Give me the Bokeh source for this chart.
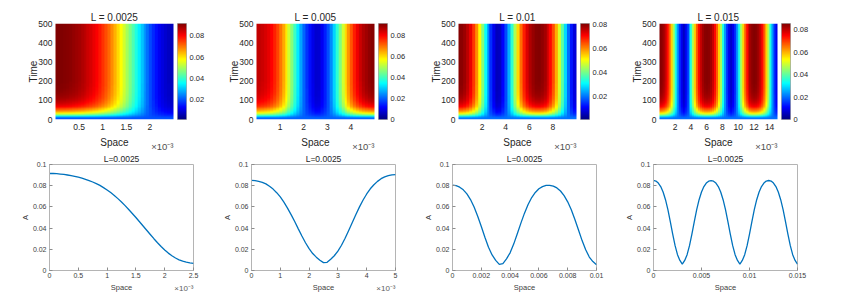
import numpy as np
from bokeh.plotting import figure
from bokeh.models import Range1d, LinearColorMapper, FixedTicker, CustomJSTickFormatter, Title
from bokeh.layouts import row, column
from bokeh.embed import file_html
from bokeh.resources import INLINE

FONT = "Liberation Sans"

# ---------------- data ----------------
lengths = [0.0025, 0.005, 0.01, 0.015]
top_titles = ["L = 0.0025", "L = 0.005", "L = 0.01", "L = 0.015"]
bottom_titles = ["L=0.0025", "L=0.0025", "L=0.0025", "L=0.0025"]
space_step = [0.0625e-3, 0.125e-3, 0.25e-3, 0.25e-3]

# steady-state A(space) profiles (bottom row), sampled every space_step
profile_1 = [0.0915, 0.0915, 0.0913, 0.0910, 0.0906, 0.0901, 0.0895, 0.0888, 0.0880, 0.0871,
             0.0860, 0.0848, 0.0835, 0.0820, 0.0803, 0.0782, 0.0760, 0.0735, 0.0708, 0.0678,
             0.0646, 0.0612, 0.0576, 0.0538, 0.0500, 0.0460, 0.0420, 0.0380, 0.0340, 0.0300,
             0.0262, 0.0226, 0.0193, 0.0164, 0.0139, 0.0118, 0.0101, 0.0088, 0.0078, 0.0071,
             0.0067]
profile_2 = [0.0850, 0.0848, 0.0841, 0.0831, 0.0817, 0.0795, 0.0768, 0.0734, 0.0694, 0.0645,
             0.0589, 0.0527, 0.0462, 0.0393, 0.0325, 0.0262, 0.0206, 0.0160, 0.0126, 0.0096,
             0.0074, 0.0077, 0.0106, 0.0139, 0.0182, 0.0238, 0.0304, 0.0378, 0.0453, 0.0528,
             0.0600, 0.0665, 0.0722, 0.0771, 0.0809, 0.0841, 0.0866, 0.0883, 0.0895, 0.0903,
             0.0905]
profile_3 = [0.0805, 0.0800, 0.0786, 0.0761, 0.0723, 0.0669, 0.0599, 0.0512, 0.0415, 0.0314,
             0.0220, 0.0147, 0.0096, 0.0058, 0.0065, 0.0110, 0.0167, 0.0249, 0.0346, 0.0447,
             0.0541, 0.0623, 0.0688, 0.0736, 0.0771, 0.0791, 0.0803, 0.0804, 0.0796, 0.0779,
             0.0750, 0.0706, 0.0648, 0.0573, 0.0481, 0.0382, 0.0282, 0.0195, 0.0127, 0.0084,
             0.0055]
profile_4 = [0.0850, 0.0844, 0.0825, 0.0792, 0.0740, 0.0668, 0.0574, 0.0462, 0.0344, 0.0234,
             0.0149, 0.0095, 0.0060, 0.0095, 0.0149, 0.0234, 0.0344, 0.0462, 0.0574, 0.0668,
             0.0740, 0.0792, 0.0825, 0.0843, 0.0848, 0.0843, 0.0825, 0.0792, 0.0740, 0.0668,
             0.0574, 0.0462, 0.0344, 0.0234, 0.0149, 0.0095, 0.0061, 0.0095, 0.0149, 0.0234,
             0.0344, 0.0462, 0.0574, 0.0668, 0.0740, 0.0792, 0.0825, 0.0844, 0.0849, 0.0844,
             0.0825, 0.0792, 0.0740, 0.0668, 0.0574, 0.0462, 0.0344, 0.0234, 0.0149, 0.0095,
             0.0059]
profiles = [profile_1, profile_2, profile_3, profile_4]

# time evolution: initial level and fraction of the way to steady state (every 5 time units)
initial_value = 0.02
growth_dt = 5
t_end = 500
growth = [0.00, 0.02, 0.10, 0.24, 0.37, 0.47, 0.55, 0.62, 0.67, 0.715,
          0.75, 0.785, 0.815, 0.84, 0.86, 0.88, 0.895, 0.91, 0.922, 0.933,
          0.943, 0.951, 0.958, 0.964, 0.969, 0.974, 0.978, 0.981, 0.984, 0.987,
          0.989, 0.991, 0.993, 0.994, 0.995, 0.996, 0.997, 0.998, 0.999, 0.999]

cbar_low = [0.0015, 0.0, 0.001, 0.0]
cbar_high = [0.0915, 0.0912, 0.081, 0.0855]

top_xticks = [[0.5, 1, 1.5, 2], [1, 2, 3, 4], [2, 4, 6, 8], [2, 4, 6, 8, 10, 12, 14]]
time_ticks = [0, 100, 200, 300, 400, 500]
cbar_ticks = [0, 0.02, 0.04, 0.06, 0.08]
bottom_xticks = [[0, 0.5, 1, 1.5, 2, 2.5], [0, 1, 2, 3, 4, 5],
                 [0, 0.002, 0.004, 0.006, 0.008, 0.01], [0, 0.005, 0.01, 0.015]]
bottom_xscale = [1e3, 1e3, 1, 1]
a_ticks = [0, 0.02, 0.04, 0.06, 0.08, 0.1]

# ---------------- styling ----------------
def jet(n=256):
    out = []
    for i in range(n):
        x = i / (n - 1)
        r = min(max(1.5 - abs(4 * x - 3), 0), 1)
        g = min(max(1.5 - abs(4 * x - 2), 0), 1)
        b = min(max(1.5 - abs(4 * x - 1), 0), 1)
        out.append("#%02x%02x%02x" % (round(r * 255), round(g * 255), round(b * 255)))
    return out

JET = jet()
FMT = "return String(parseFloat(tick.toPrecision(6)));"
TXT = "#262626"

n_rows = t_end // growth_dt
g_rows = np.concatenate([np.array(growth), np.ones(n_rows - len(growth))])

top_left = [55, 47, 47, 47]
top_cbar_right = [23, 24, 23, 30]
bottom_left = [49, 41, 41, 41]
bottom_right = [17, 16, 16, 30]


def style_axis(ax, tick_size, label_size, color, tick_color=None, line_color=None):
    ax.major_label_text_font = FONT
    ax.major_label_text_font_size = tick_size
    ax.major_label_text_color = color
    ax.axis_label_text_font = FONT
    ax.axis_label_text_font_size = label_size
    ax.axis_label_text_font_style = "normal"
    ax.axis_label_text_color = color
    ax.minor_tick_line_color = None
    ax.major_tick_out = 0
    ax.major_tick_in = 3 if tick_color else 0
    ax.major_tick_line_color = tick_color
    ax.axis_line_color = line_color
    ax.formatter = CustomJSTickFormatter(code=FMT)


def exp_title(p, size, color, standoff):
    p.add_layout(Title(text="\u00d710\u207b\u00b3", align="right", vertical_align="top",
                       text_font=FONT, text_font_size=size, text_font_style="normal",
                       text_color=color, standoff=standoff), "below")


top_row = []
bottom_row = []
for k in range(4):
    prof = np.array(profiles[k])
    step = space_step[k] * 1e3
    Lk = lengths[k] * 1e3
    field = initial_value + (prof[None, :] - initial_value) * g_rows[:, None]
    mapper = LinearColorMapper(palette=JET, low=cbar_low[k], high=cbar_high[k])

    L = top_left[k]
    p = figure(width=L + 118 + 4, height=150, x_range=Range1d(0, Lk), y_range=Range1d(0, t_end),
               output_backend="svg", toolbar_location=None, title=top_titles[k],
               min_border_left=L, min_border_right=4, min_border_top=23, min_border_bottom=31)
    p.image(image=[field], x=-step / 2, y=0, dw=Lk + step, dh=t_end, color_mapper=mapper)
    p.grid.visible = False
    p.outline_line_color = None
    p.title.text_font = FONT
    p.title.text_font_size = "10px"
    p.title.text_font_style = "normal"
    p.title.text_color = TXT
    p.title.align = "center"
    p.title.standoff = 2
    style_axis(p.xaxis[0], "8.5px", "10px", TXT)
    style_axis(p.yaxis[0], "8.5px", "10px", TXT)
    p.xaxis.ticker = FixedTicker(ticks=top_xticks[k])
    p.yaxis.ticker = FixedTicker(ticks=time_ticks)
    p.xaxis.axis_label = "Space"
    p.yaxis.axis_label = "Time"
    p.xaxis.major_label_standoff = 4
    p.yaxis.major_label_standoff = 3
    p.xaxis.axis_label_standoff = 4
    p.yaxis.axis_label_standoff = -4
    exp_title(p, "9.5px", "#505050", -20)

    R = top_cbar_right[k]
    lo, hi = cbar_low[k], cbar_high[k]
    c = figure(width=9 + R, height=150, x_range=Range1d(0, 1), y_range=Range1d(lo, hi),
               output_backend="svg", toolbar_location=None, x_axis_location=None,
               y_axis_location="right",
               min_border_left=0, min_border_right=R, min_border_top=23, min_border_bottom=31)
    grad = np.linspace(lo, hi, 256).reshape(256, 1)
    c.image(image=[grad], x=0, y=lo, dw=1, dh=hi - lo, color_mapper=mapper)
    c.grid.visible = False
    c.outline_line_color = "#6e6e6e"
    c.outline_line_width = 0.6
    style_axis(c.yaxis[0], "7.5px", "7.5px", TXT)
    c.yaxis.ticker = FixedTicker(ticks=[t for t in cbar_ticks if lo <= t <= hi])
    c.yaxis.major_label_standoff = 3
    top_row += [p, c]

    sc = bottom_xscale[k]
    xs = np.arange(len(prof)) * space_step[k] * sc
    bl, br = bottom_left[k], bottom_right[k]
    b = figure(width=bl + 144 + br, height=144, x_range=Range1d(0, lengths[k] * sc),
               y_range=Range1d(0, 0.1),
               output_backend="svg", toolbar_location=None, title=bottom_titles[k],
               min_border_left=bl, min_border_right=br, min_border_top=14, min_border_bottom=24)
    b.line(xs, prof, line_color="#0072BD", line_width=1.3)
    b.grid.visible = False
    b.outline_line_color = "#b4b4b4"
    b.title.text_font = FONT
    b.title.text_font_size = "8.5px"
    b.title.text_font_style = "normal"
    b.title.text_color = TXT
    b.title.align = "center"
    b.title.standoff = 2
    style_axis(b.xaxis[0], "7px", "7.5px", "#404040", "#8c8c8c", "#b4b4b4")
    style_axis(b.yaxis[0], "7px", "7.5px", "#404040", "#8c8c8c", "#b4b4b4")
    b.xaxis.ticker = FixedTicker(ticks=bottom_xticks[k])
    b.yaxis.ticker = FixedTicker(ticks=a_ticks)
    b.xaxis.axis_label = "Space"
    b.yaxis.axis_label = "A"
    b.xaxis.major_label_standoff = 2
    b.yaxis.major_label_standoff = 3
    b.xaxis.axis_label_standoff = 2
    b.yaxis.axis_label_standoff = 0
    if sc != 1:
        exp_title(b, "8px", "#606060", -22)
    bottom_row.append(b)

layout = column(row(*top_row), row(*bottom_row))
open("out.html", "w").write(file_html(layout, INLINE))
